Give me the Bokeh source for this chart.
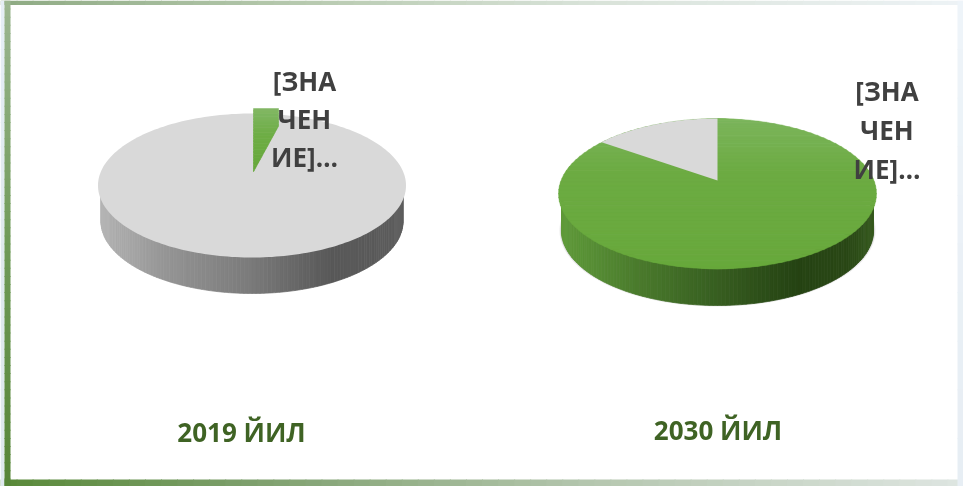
import numpy as np
from bokeh.plotting import figure
from bokeh.models import Range1d
from bokeh.core.properties import value as V
from bokeh.embed import file_html
from bokeh.resources import INLINE

years = ["2019 ЙИЛ", "2030 ЙИЛ"]
green_share = [3.5, 87.0]
grey_share = [96.5, 13.0]
label_lines = ["[ЗНА", "ЧЕН", "ИЕ]…"]

W, H = 963, 486
FONT = "Open Sans"

def hexrgb(c):
    return np.array([int(c[i:i+2], 16) for i in (1, 3, 5)], float)

def ramp(xs, stops_x, stops_c):
    arr = np.array([hexrgb(c) for c in stops_c])
    out = []
    for x in xs:
        out.append("#%02x%02x%02x" % tuple(int(round(np.interp(x, stops_x, arr[:, k]))) for k in range(3)))
    return out

p = figure(width=W, height=H, output_backend="svg", toolbar_location=None,
           x_range=Range1d(0, W), y_range=Range1d(H, 0), min_border=0,
           outline_line_color=None, background_fill_color="white", border_fill_color="white")
p.axis.visible = False
p.grid.visible = False
p.styles = {"position": "fixed", "left": "0px", "top": "0px"}

def band(x0, x1, y0, y1, stops_f, stops_c, n=60, horizontal=True):
    if horizontal:
        e = np.linspace(x0, x1, n + 1)
        p.quad(left=e[:-1], right=e[1:] + 1, top=y0, bottom=y1,
               fill_color=ramp((e[:-1] - x0) / (x1 - x0), stops_f, stops_c), line_color=None)
    else:
        e = np.linspace(y0, y1, n + 1)
        p.quad(left=x0, right=x1, top=e[:-1], bottom=e[1:] + 1,
               fill_color=ramp((e[:-1] - y0) / (y1 - y0), stops_f, stops_c), line_color=None)

# frame
band(0, W, 0, 4.5, [0, .3, .6, 1], ["#8fab84", "#b6c9ae", "#d8e2d8", "#eef3f6"])
band(0, W, 479, 486, [0, .25, .6, 1], ["#5a8a3a", "#7d9f6c", "#b4c6ae", "#dfe6e2"])
band(0, 4, 0, 486, [0, .5, 1], ["#e6eef6", "#dfe9ee", "#dfe9ee"], n=20, horizontal=False)
band(4, 10, 0, 486, [0, .5, 1], ["#9bb690", "#6f9a58", "#568537"], horizontal=False)
band(W - 6, W, 0, 486, [0, 1], ["#eef4f9", "#e6edf3"], n=10, horizontal=False)

def pie(cx, cy, rx, ry, depth, wall_x, wall_c, shadow):
    t = np.linspace(0, 2 * np.pi, 241)
    wx = rx - 3
    if shadow:
        for grow, a in ((2, .10), (1, .18)):
            p.patch(cx + (wx + grow) * np.cos(t), cy + depth + (ry - 1 + grow) * np.sin(t),
                    fill_color="#404040", fill_alpha=a, line_color=None)
    th = np.linspace(np.pi, 0, 121)
    xs, ys, fr = [], [], []
    for a0, a1 in zip(th[:-1], th[1:]):
        x0, x1 = cx + wx * np.cos(a0), cx + wx * np.cos(a1)
        y0, y1 = cy + ry * np.sin(a0), cy + ry * np.sin(a1)
        xs.append([x0, x1, x1, x0])
        ys.append([y0 - 2, y1 - 2, y1 + depth, y0 + depth])
        fr.append(((x0 + x1) / 2 - (cx - wx)) / (2 * wx))
    cols = ramp(fr, wall_x, wall_c)
    p.patches(xs, ys, fill_color=cols, line_color=cols, line_width=0.7)
    return t

# 2019 pie
cx, cy, rx, ry = 251.5, 185, 154, 72
t = pie(cx, cy, rx, ry, 36, [0, .22, .5, .76, 1],
        ["#b4b4b4", "#949494", "#7a7a7a", "#585858", "#5c5c5c"], False)
p.patch(cx + rx * np.cos(t), cy + ry * np.sin(t), fill_color="#d9d9d9", line_color=None)
a = green_share[0] / 100 * 2 * np.pi
ax, ay, top, clip_x = 253, 171, 108, 278
slope = rx * np.sin(a) / (ay - (180 - ry * np.cos(a)))
rows = np.linspace(top, ay, 41)
row_cols = ramp((rows[:-1] - top) / (ay - top), [0, .4, 1], ["#82b765", "#6fae47", "#66a83a"])
rr = np.minimum(ax + (ay - rows) * slope, clip_x)
p.patches([[ax, rr[i], rr[i + 1], ax] for i in range(40)],
          [[rows[i], rows[i], rows[i + 1] + .4, rows[i + 1] + .4] for i in range(40)],
          fill_color=row_cols, line_color=row_cols, line_width=0.5)

# 2030 pie
cx, cy, rx, ry = 717, 193, 159, 75
t = pie(cx, cy, rx, ry, 37, [0, .25, .5, .75, .92, 1],
        ["#5f9b3a", "#4a7a2c", "#375e20", "#254313", "#2a4816", "#365a1f"], True)
yy = cy + ry * np.sin(np.linspace(-np.pi / 2, np.pi / 2, 61))
hw = rx * np.sqrt(np.clip(1 - ((yy - cy) / ry) ** 2, 0, 1))
cols = ramp((yy[:-1] - yy[0]) / (yy[-1] - yy[0]), [0, .35, 1], ["#7cb55c", "#6cab42", "#68a93c"])
p.patches([[cx - hw[i], cx + hw[i], cx + hw[i + 1], cx - hw[i + 1]] for i in range(60)],
          [[yy[i], yy[i], yy[i + 1] + .5, yy[i + 1] + .5] for i in range(60)],
          fill_color=cols, line_color=cols, line_width=0.4)
a = grey_share[1] / 100 * 2 * np.pi
th = np.linspace(-a, 0, 80)
p.patch(np.r_[717, cx + rx * np.sin(th)], np.r_[180, cy - ry * np.cos(th)],
        fill_color="#d9d9d9", line_color=None)

# labels
def text(xp, yp, s, size, color, align="center"):
    p.text([xp], [yp], text=[s], text_font=V(FONT), text_font_style="bold",
           text_font_size=size, text_color=color, text_align=align, text_baseline="middle")

for i, s in enumerate(label_lines):
    text(304, 80 + 38 * i, s, "26px", "#404040")
    text(886.5, 90 + 39 * i, s, "26px", "#404040")
text(241, 431, years[0], "26px", "#3f6324")
text(717.5, 429, years[1], "26px", "#3f6324")

open("out.html", "w").write(file_html(p, INLINE))
